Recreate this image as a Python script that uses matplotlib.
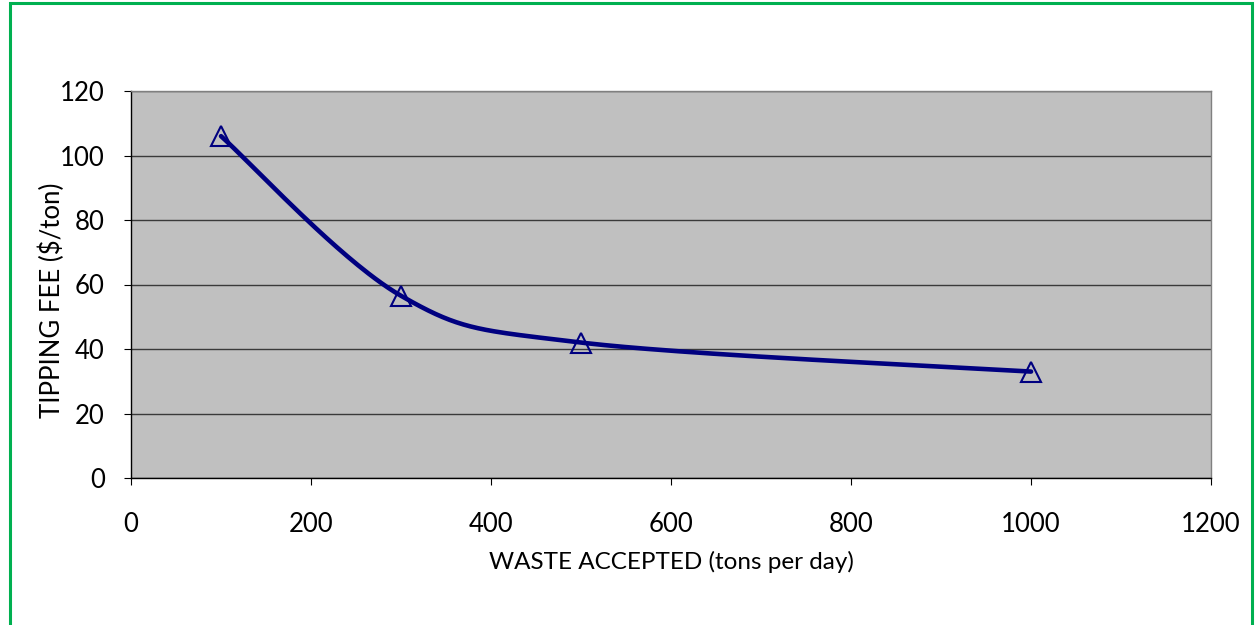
import numpy as np
import matplotlib.pyplot as plt
from matplotlib.patches import Rectangle

# data
waste = [100, 300, 500, 1000]
fee = [106, 56.5, 42, 33]

xticks = [0, 200, 400, 600, 800, 1000, 1200]
yticks = [0, 20, 40, 60, 80, 100, 120]

plt.rcParams['font.family'] = ['Lato', 'DejaVu Sans']


def smooth_curve(xs, ys, n=60):
    # Excel-style smoothed line: cubic Bezier segments with Catmull-Rom control points
    pts = np.column_stack([xs, ys]).astype(float)
    ext = np.vstack([pts[0], pts, pts[-1]])
    out = []
    t = np.linspace(0, 1, n)[:, None]
    for i in range(1, len(ext) - 2):
        p0, p1, p2, p3 = ext[i - 1], ext[i], ext[i + 1], ext[i + 2]
        c1 = p1 + (p2 - p0) / 6
        c2 = p2 - (p3 - p1) / 6
        seg = ((1 - t) ** 3) * p1 + 3 * ((1 - t) ** 2) * t * c1 + 3 * (1 - t) * t ** 2 * c2 + t ** 3 * p2
        out.append(seg)
    out = np.vstack(out)
    return out[:, 0], out[:, 1]


fig = plt.figure(figsize=(12.55, 6.25), dpi=100)
ax = fig.add_axes([0.1044, 0.2352, 0.8606, 0.6192])
ax.set_facecolor('#C0C0C0')

sx, sy = smooth_curve(waste, fee)
ax.plot(sx, sy, color='#000080', lw=3.3, solid_capstyle='round', zorder=3)
ax.plot(waste, fee, linestyle='none', marker='^', markersize=14,
        markerfacecolor='none', markeredgecolor='#000080', markeredgewidth=1.5, zorder=4)

ax.set_xlim(0, 1200)
ax.set_ylim(0, 120)
ax.set_xticks(xticks)
ax.set_yticks(yticks)
ax.yaxis.grid(True, color='#3a3a3a', lw=1)
ax.set_axisbelow(True)
for s in ax.spines.values():
    s.set_color('#808080')
    s.set_linewidth(1)
ax.spines['left'].set_color('black')
ax.spines['bottom'].set_color('black')
ax.tick_params(direction='out', length=5, width=0.8, labelsize=18.5)
ax.tick_params(axis='y', pad=14)
ax.tick_params(axis='x', pad=19.5)

ax.set_xlabel('WASTE ACCEPTED (tons per day)', fontsize=17.5, labelpad=10)
ax.set_ylabel('TIPPING FEE ($/ton)', fontsize=18.5)
ax.yaxis.set_label_coords(-0.061, 0.46)

# green chart border
fig.patches.append(Rectangle((10 / 1255, -0.05), 1242 / 1255, 1.05 - 3 / 625,
                             transform=fig.transFigure, fill=False,
                             edgecolor='#00B050', lw=2.2))

fig.savefig('out.png', dpi=100)
